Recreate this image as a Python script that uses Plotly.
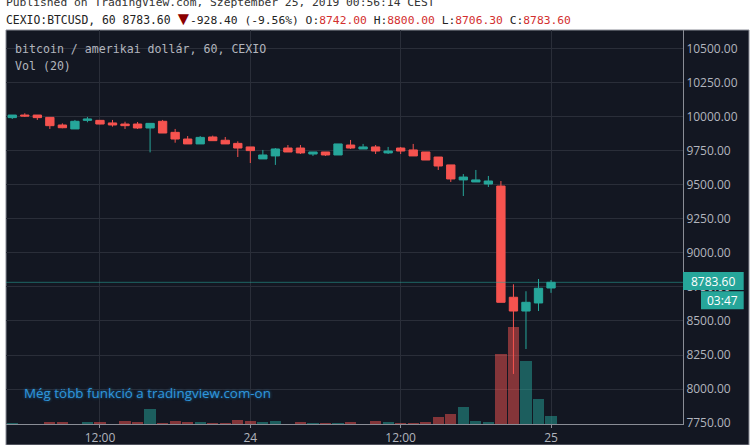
#!/usr/bin/env python3
"""CEXIO:BTCUSD 1h chart, 23-25 Sept 2019."""

import pandas as pd
import plotly.graph_objects as go

# 1h candles starting 2019-09-23 05:00
opens = [9992, 10011, 10011, 9994, 9938, 9909, 9972, 9972, 9953, 9945, 9945,
         9916, 9965, 9884, 9835, 9799, 9850, 9826, 9803, 9777, 9689, 9711,
         9769, 9769, 9725, 9740, 9718, 9791, 9762, 9777, 9733, 9769, 9755,
         9740, 9703, 9645, 9535, 9520, 9505, 9490, 8674, 8573, 8632, 8742]
highs = [10011, 10024, 10011, 9994, 9950, 9975, 9997, 9975, 9975, 9962, 9960,
         9950, 9975, 9909, 9857, 9857, 9860, 9850, 9818, 9777, 9755, 9769,
         9791, 9791, 9740, 9740, 9799, 9828, 9799, 9791, 9777, 9777, 9799,
         9740, 9703, 9645, 9578, 9608, 9564, 9527, 8769, 8718, 8808, 8800]
lows = [9982, 9997, 9975, 9909, 9914, 9909, 9958, 9943, 9926, 9909, 9909,
        9737, 9879, 9808, 9799, 9799, 9823, 9799, 9703, 9659, 9689, 9645,
        9740, 9725, 9711, 9711, 9718, 9762, 9762, 9725, 9725, 9725, 9711,
        9681, 9608, 9520, 9417, 9520, 9483, 8637, 8111, 8294, 8573, 8706.3]
closes = [10011, 10004, 9992, 9933, 9918, 9965, 9982, 9945, 9938, 9933, 9916,
          9950, 9879, 9835, 9799, 9847, 9823, 9799, 9769, 9750, 9718, 9762,
          9740, 9733, 9740, 9718, 9799, 9769, 9777, 9747, 9747, 9747, 9711,
          9681, 9637, 9542, 9556, 9535, 9527, 8637, 8573, 8637, 8740, 8783.6]
volumes = [1.4, 0, 0, 4, 4, 0, 3.4, 3.4, 0, 5.4, 4, 29.4, 2, 5.4, 4, 4, 2, 2,
           7.4, 5.4, 3.4, 5.4, 0, 4, 1.4, 1.4, 1.4, 3.4, 0, 5.4, 3.4, 1.4, 1.4,
           3.4, 13.4, 19.4, 33.4, 5.4, 3.4, 139.4, 193.4, 125.4, 49.4, 15.4]

x_ticks = ["2019-09-23 12:00", "2019-09-24 00:00", "2019-09-24 12:00", "2019-09-25 00:00"]
x_labels = ["12:00", "24", "12:00", "25"]
y_ticks = [7750, 8000, 8250, 8500, 8750, 9000, 9250, 9500, 9750, 10000, 10250, 10500]

UP = "#26a69a"
DOWN = "#f6534f"
BG = "#131722"
GRID = "#2a2e39"
TICK = "#b2b5be"
MONO = "DejaVu Sans Mono"
SANS = "Open Sans"

times = pd.date_range("2019-09-23 05:00", periods=len(closes), freq="h")
vol_colors = [UP if c >= o else DOWN for o, c in zip(opens, closes)]


def px(x):
    return (x - 6) / 677


def py(y):
    return (424 - y) / 394


fig = go.Figure()

fig.add_trace(go.Bar(
    x=times, y=volumes, width=3600000 * 0.9,
    marker=dict(color=vol_colors, opacity=0.5, line_width=0),
    yaxis="y", hoverinfo="skip",
))

fig.add_trace(go.Candlestick(
    x=times, open=opens, high=highs, low=lows, close=closes,
    increasing=dict(line=dict(color=UP, width=1), fillcolor=UP),
    decreasing=dict(line=dict(color=DOWN, width=1), fillcolor=DOWN),
    yaxis="y2",
))

shapes = [
    dict(type="rect", xref="paper", yref="paper", x0=px(6), x1=px(749), y0=py(445), y1=py(30),
         fillcolor=BG, line=dict(color="#8a8d96", width=1), layer="below"),
    dict(type="line", xref="paper", yref="y2", x0=0, x1=1, y0=closes[-1], y1=closes[-1],
         line=dict(color="rgba(38,166,154,0.55)", width=1)),
    dict(type="rect", xref="paper", yref="paper", x0=px(683), x1=px(743.7), y0=py(290), y1=py(272),
         fillcolor=UP, line_width=0),
    dict(type="rect", xref="paper", yref="paper", x0=px(701), x1=px(743.7), y0=py(309.3), y1=py(291.3),
         fillcolor=UP, line_width=0),
]


def label(x, y, text, size=12, color=TICK, family=MONO, xanchor="left", **font_kw):
    return dict(xref="paper", yref="paper", x=px(x), y=py(y), text=text, showarrow=False,
                xanchor=xanchor, yanchor="middle", borderpad=0,
                font=dict(family=family, size=size, color=color, **font_kw))


val = lambda s: f'<span style="color:#d32f2f">{s}</span>'
annotations = [
    label(5, 2, "Published on TradingView.com, Szeptember 25, 2019 00:56:14 CEST", 11.3, "#333333"),
    label(5, 20, "CEXIO:BTCUSD, 60 8783.60", 11.4, "#222222"),
    label(173, 18, "▼", 19, "#8b0000", SANS),
    label(189, 20, "-928.40 (-9.56%) O:" + val("8742.00") + " H:" + val("8800.00")
          + " L:" + val("8706.30") + " C:" + val("8783.60"), 11.3, "#222222"),
    label(14, 49, "bitcoin / amerikai dollár, 60, CEXIO", 11.6),
    label(14, 66, "Vol (20)", 11.6),
    label(23, 393, "Még több funkció a tradingview.com-on", 13.4, "#2f96dc", SANS,
          shadow="0 0 3px #1d6fa8"),
    label(713.3, 281, "8783.60", 12, "#ffffff", SANS, xanchor="center"),
    label(722.3, 300.3, "03:47", 12, "#ffffff", SANS, xanchor="center"),
]

fig.update_layout(
    width=756, height=445,
    margin=dict(l=6, r=73, t=30, b=21),
    paper_bgcolor="#ffffff", plot_bgcolor=BG,
    showlegend=False, hovermode=False, bargap=0, boxgap=0.05,
    shapes=shapes, annotations=annotations,
    xaxis=dict(
        type="date", range=["2019-09-23 04:30", "2019-09-25 10:32"],
        rangeslider_visible=False, automargin=False,
        tickmode="array", tickvals=x_ticks, ticktext=x_labels,
        tickfont=dict(family=SANS, size=12, color=TICK),
        gridcolor=GRID, gridwidth=1, ticks="outside", ticklen=3, tickcolor="#8a8d96",
        showline=True, linecolor="#8a8d96", zeroline=False,
    ),
    yaxis=dict(range=[0, 788], visible=False, showgrid=False, fixedrange=True, automargin=False),
    yaxis2=dict(
        overlaying="y", side="right", range=[7744, 10635], automargin=False,
        tickmode="array", tickvals=y_ticks, tickformat=".2f",
        tickfont=dict(family=SANS, size=12, color=TICK),
        gridcolor=GRID, gridwidth=1, ticks="", zeroline=False,
        showline=True, linecolor="#8a8d96",
    ),
)

fig.write_html("out.html", config=dict(displayModeBar=False),
               post_script="document.body.style.margin='0';")
